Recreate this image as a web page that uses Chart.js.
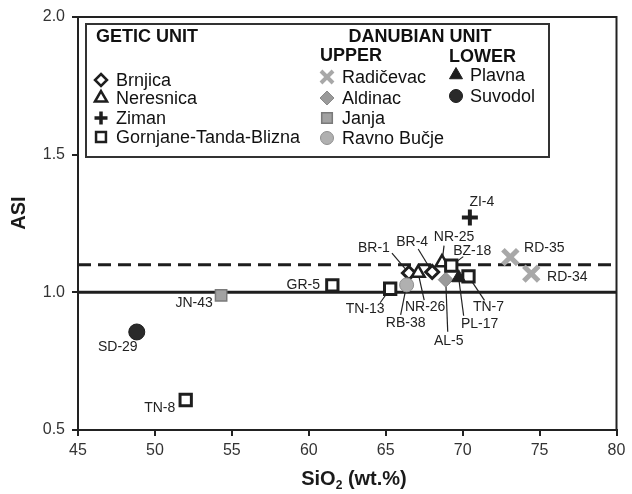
<!DOCTYPE html>
<html><head><meta charset="utf-8">
<script src="https://cdn.jsdelivr.net/npm/chart.js@4/dist/chart.umd.min.js"></script>
<style>html,body{margin:0;padding:0;background:#fff}canvas{display:block}</style>
</head><body>
<canvas id="c" width="632" height="494"></canvas>
<script>
// ---- Data ----
const xTicks = [45, 50, 55, 60, 65, 70, 75, 80];
const yTicks = [0.5, 1.0, 1.5, 2.0];
const refSolid = 1.0;
const refDashed = 1.1;

const brnjica   = [{x: 66.51, y: 1.070, id: 'BR-1'}, {x: 68.02, y: 1.074, id: 'BR-4'}];
const neresnica = [{x: 68.66, y: 1.108, id: 'NR-25'}, {x: 67.11, y: 1.070, id: 'NR-26'}];
const ziman     = [{x: 70.47, y: 1.272, id: 'ZI-4'}];
const gornjane  = [{x: 61.53, y: 1.025, id: 'GR-5'}, {x: 65.29, y: 1.013, id: 'TN-13'}, {x: 52.0, y: 0.609, id: 'TN-8'}, {x: 69.26, y: 1.097, id: 'BZ-18'}, {x: 70.38, y: 1.058, id: 'TN-7'}];
const radicevac = [{x: 73.1, y: 1.128, id: 'RD-35'}, {x: 74.46, y: 1.068, id: 'RD-34'}];
const aldinac   = [{x: 68.90, y: 1.046, id: 'AL-5'}];
const janja     = [{x: 54.3, y: 0.989, id: 'JN-43'}];
const ravno     = [{x: 66.36, y: 1.027, id: 'RB-38'}];
const plavna    = [{x: 69.74, y: 1.053, id: 'PL-17'}];
const suvodol   = [{x: 48.82, y: 0.856, id: 'SD-29'}];

// ---- Styles ----
const BLACK = '#1e1e1e';
const series = [
  {name: 'Brnjica', data: brnjica, style: 'rectRot', r: 6.5, fill: '#fff', stroke: BLACK, lw: 3, lr: 6},
  {name: 'Neresnica', data: neresnica, style: 'triangle', r: 7.5, fill: '#fff', stroke: BLACK, lw: 2.5, lr: 7},
  {name: 'Ziman', data: ziman, style: 'cross', r: 8, fill: BLACK, stroke: BLACK, lw: 4, lr: 6.5},
  {name: 'Gornjane-Tanda-Blizna', data: gornjane, style: 'rect', r: 8, fill: '#fff', stroke: BLACK, lw: 3, lr: 7},
  {name: 'Radičevac', data: radicevac, style: 'crossRot', r: 10.5, fill: '#a8a8a8', stroke: '#a8a8a8', lw: 5, lr: 8.5},
  {name: 'Aldinac', data: aldinac, style: 'rectRot', r: 7.5, fill: '#9a9a9a', stroke: '#8a8a8a', lw: 1, lr: 7},
  {name: 'Janja', data: janja, style: 'rect', r: 8, fill: '#a2a2a2', stroke: '#7a7a7a', lw: 1.5, lr: 7.5},
  {name: 'Ravno Bučje', data: ravno, style: 'circle', r: 7, fill: '#b0b0b0', stroke: '#909090', lw: 1, lr: 6.5},
  {name: 'Plavna', data: plavna, style: 'triangle', r: 8, fill: BLACK, stroke: BLACK, lw: 1, lr: 7.5},
  {name: 'Suvodol', data: suvodol, style: 'circle', r: 8, fill: '#2a2a2a', stroke: BLACK, lw: 1, lr: 6.5}
];
// draw order (higher = underneath)
const drawOrder = {'Brnjica': 9, 'Neresnica': 8, 'Gornjane-Tanda-Blizna': 6, 'Aldinac': 7, 'Plavna': 5, 'Ziman': 4, 'Radičevac': 4, 'Janja': 4, 'Ravno Bučje': 4, 'Suvodol': 4};

// label placement (pixel offsets from the point; leader end optional)
const labelPos = {
  'BR-1': {dx: -35, dy: -25, lx: -17, ly: -20},
  'BR-4': {dx: -20, dy: -30, lx: -14, ly: -23},
  'NR-25': {dx: 12, dy: -25, lx: 2, ly: -17},
  'BZ-18': {dx: 21, dy: -14, lx: 12, ly: -9},
  'TN-13': {dx: -25, dy: 20, lx: -10, ly: 14},
  'NR-26': {dx: 7, dy: 34, lx: 6, ly: 27},
  'RB-38': {dx: -1, dy: 38, lx: -6, ly: 30},
  'PL-17': {dx: 21, dy: 46, lx: 5, ly: 38},
  'TN-7': {dx: 20, dy: 31, lx: 16, ly: 24},
  'AL-5': {dx: 3, dy: 61, lx: 2, ly: 52},
  'ZI-4': {dx: 12, dy: -15},
  'RD-35': {dx: 34, dy: -9},
  'RD-34': {dx: 36, dy: 4},
  'GR-5': {dx: -29, dy: 0},
  'JN-43': {dx: -27, dy: 8},
  'SD-29': {dx: -19, dy: 15},
  'TN-8': {dx: -26, dy: 8}
};

const FONT = "'Liberation Sans', Arial, Helvetica, sans-serif";

function drawMarker(ctx, s, x, y, r) {
  ctx.save();
  ctx.fillStyle = s.fill; ctx.strokeStyle = s.stroke; ctx.lineWidth = s.lw;
  ctx.lineJoin = 'miter';
  ctx.beginPath();
  if (s.style === 'circle') {
    ctx.arc(x, y, r, 0, Math.PI * 2);
    ctx.fill(); ctx.stroke();
  } else if (s.style === 'rect') {
    const h = r * Math.SQRT1_2;
    ctx.rect(x - h, y - h, 2 * h, 2 * h);
    ctx.fill(); ctx.stroke();
  } else if (s.style === 'rectRot') {
    ctx.moveTo(x, y - r); ctx.lineTo(x + r, y); ctx.lineTo(x, y + r); ctx.lineTo(x - r, y); ctx.closePath();
    ctx.fill(); ctx.stroke();
  } else if (s.style === 'triangle') {
    for (let i = 0; i < 3; i++) {
      const a = i * 2 * Math.PI / 3;
      const px = x + Math.sin(a) * r, py = y - Math.cos(a) * r;
      if (i === 0) ctx.moveTo(px, py); else ctx.lineTo(px, py);
    }
    ctx.closePath(); ctx.fill(); ctx.stroke();
  } else if (s.style === 'cross') {
    ctx.moveTo(x - r, y); ctx.lineTo(x + r, y); ctx.moveTo(x, y - r); ctx.lineTo(x, y + r);
    ctx.stroke();
  } else if (s.style === 'crossRot') {
    const h = r * Math.SQRT1_2;
    ctx.moveTo(x - h, y - h); ctx.lineTo(x + h, y + h); ctx.moveTo(x + h, y - h); ctx.lineTo(x - h, y + h);
    ctx.stroke();
  }
  ctx.restore();
}

const datasets = [
  {type: 'line', data: [{x: 45, y: refDashed}, {x: 80, y: refDashed}], borderColor: BLACK, borderWidth: 3, borderDash: [13, 7], pointRadius: 0, showLine: true, order: 100, fill: false},
  {type: 'line', data: [{x: 45, y: refSolid}, {x: 80, y: refSolid}], borderColor: BLACK, borderWidth: 3, pointRadius: 0, showLine: true, order: 100, fill: false}
];
series.forEach(s => {
  datasets.push({
    label: s.name, data: s.data, pointStyle: s.style, pointRadius: s.r, pointHoverRadius: s.r,
    backgroundColor: s.fill, borderColor: s.stroke, pointBorderWidth: s.lw, borderWidth: s.lw,
    order: drawOrder[s.name], _ids: s.data.map(d => d.id)
  });
});

const customPlugin = {
  id: 'custom',
  beforeDraw(chart) {
    const ctx = chart.ctx;
    ctx.save(); ctx.fillStyle = '#fff'; ctx.fillRect(0, 0, chart.width, chart.height); ctx.restore();
  },
  beforeDatasetsDraw(chart) {
    const ctx = chart.ctx;
    ctx.save();
    ctx.font = '14px ' + FONT;
    ctx.fillStyle = '#222'; ctx.strokeStyle = '#222'; ctx.lineWidth = 1.2;
    ctx.textAlign = 'center'; ctx.textBaseline = 'middle';
    chart.data.datasets.forEach((ds, i) => {
      if (!ds._ids) return;
      const meta = chart.getDatasetMeta(i);
      meta.data.forEach((el, j) => {
        const id = ds._ids[j];
        const p = labelPos[id];
        if (!p) return;
        if (p.lx !== undefined) {
          ctx.beginPath(); ctx.moveTo(el.x, el.y); ctx.lineTo(el.x + p.lx, el.y + p.ly); ctx.stroke();
        }
        ctx.fillText(id, el.x + p.dx, el.y + p.dy);
      });
    });
    ctx.restore();
  },
  afterDraw(chart) {
    const ctx = chart.ctx, a = chart.chartArea;
    ctx.save();
    // frame
    ctx.strokeStyle = '#222'; ctx.lineWidth = 2;
    ctx.strokeRect(a.left, a.top, a.right - a.left, a.bottom - a.top);
    // axis titles
    ctx.fillStyle = '#1a1a1a';
    ctx.font = 'bold 20px ' + FONT;
    ctx.textAlign = 'center'; ctx.textBaseline = 'middle';
    ctx.save(); ctx.translate(19, 213); ctx.rotate(-Math.PI / 2); ctx.fillText('ASI', 0, 0); ctx.restore();
    const t1 = 'SiO', t2 = '2', t3 = ' (wt.%)';
    ctx.font = 'bold 20px ' + FONT; const w1 = ctx.measureText(t1).width, w3 = ctx.measureText(t3).width;
    ctx.font = 'bold 12px ' + FONT; const w2 = ctx.measureText(t2).width;
    let x0 = 354 - (w1 + w2 + w3) / 2; const yb = 485;
    ctx.textAlign = 'left'; ctx.textBaseline = 'alphabetic';
    ctx.font = 'bold 20px ' + FONT; ctx.fillText(t1, x0, yb);
    ctx.font = 'bold 12px ' + FONT; ctx.fillText(t2, x0 + w1, yb + 4);
    ctx.font = 'bold 20px ' + FONT; ctx.fillText(t3, x0 + w1 + w2, yb);

    // legend box
    ctx.fillStyle = '#fff'; ctx.fillRect(86, 24, 463, 133);
    ctx.strokeStyle = '#333'; ctx.lineWidth = 2; ctx.strokeRect(86, 24, 463, 133);
    ctx.fillStyle = '#111'; ctx.textBaseline = 'middle';
    ctx.font = 'bold 18px ' + FONT;
    ctx.textAlign = 'left'; ctx.fillText('GETIC UNIT', 96, 37);
    ctx.textAlign = 'center'; ctx.fillText('DANUBIAN UNIT', 420, 37);
    ctx.textAlign = 'left'; ctx.fillText('UPPER', 320, 56); ctx.fillText('LOWER', 449, 57);
    const cols = [
      {mx: 101, tx: 116, ys: [80, 98, 118, 137], items: series.slice(0, 4)},
      {mx: 327, tx: 342, ys: [77, 98, 118, 138], items: series.slice(4, 8)},
      {mx: 456, tx: 470, ys: [75, 96], items: series.slice(8, 10)}
    ];
    ctx.font = '18px ' + FONT;
    cols.forEach(c => c.items.forEach((s, k) => {
      const y = c.ys[k];
      drawMarker(ctx, {...s, lw: s.style === 'crossRot' ? 4 : (s.style === 'cross' ? 3.5 : Math.min(s.lw, 2.5))}, c.mx, y, s.lr);
      ctx.fillStyle = '#111'; ctx.textAlign = 'left'; ctx.textBaseline = 'middle';
      ctx.fillText(s.name, c.tx, y + 1);
    }));
    ctx.restore();
  }
};

new Chart(document.getElementById('c'), {
  type: 'scatter',
  data: {datasets},
  options: {
    responsive: false, animation: false, devicePixelRatio: 1,
    layout: {padding: {top: 17, right: 11, left: 0, bottom: 0}},
    plugins: {legend: {display: false}, tooltip: {enabled: false}},
    scales: {
      x: {
        type: 'linear', min: 45, max: 80,
        afterBuildTicks: s => { s.ticks = xTicks.map(v => ({value: v})); },
        afterFit: s => { s.height = 64; s.paddingLeft = 0; s.paddingRight = 0; },
        ticks: {font: {family: FONT, size: 16}, color: '#333', padding: 5, maxRotation: 0, autoSkip: false},
        grid: {drawOnChartArea: false, color: '#222', lineWidth: 2, tickLength: 6},
        border: {color: '#222', width: 2}
      },
      y: {
        type: 'linear', min: 0.5, max: 2.0,
        afterBuildTicks: s => { s.ticks = yTicks.map(v => ({value: v})); },
        afterFit: s => { s.width = 78; s.paddingTop = 0; s.paddingBottom = 0; },
        ticks: {font: {family: FONT, size: 16}, color: '#333', padding: 7, callback: v => Number(v).toFixed(1), autoSkip: false},
        grid: {drawOnChartArea: false, color: '#222', lineWidth: 2, tickLength: 6},
        border: {color: '#222', width: 2}
      }
    }
  },
  plugins: [customPlugin]
});
</script>
</body></html>
